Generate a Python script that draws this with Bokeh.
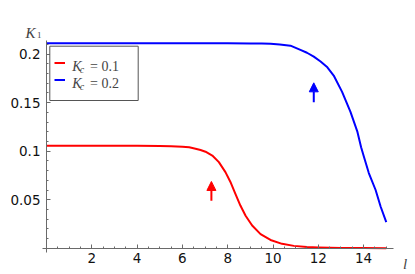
import numpy as np
from bokeh.plotting import figure
from bokeh.models import (Range1d, FixedTicker, Legend, LegendItem, Label,
                          BoxAnnotation, Arrow, NormalHead, LinearAxis)
from bokeh.embed import file_html
from bokeh.resources import INLINE

# ---- data ----
red_x = [0, 1, 2, 3, 4, 5, 5.5, 6.0, 6.3, 6.58, 6.8, 7.02, 7.32, 7.61, 7.90,
         8.12, 8.34, 8.56, 8.79, 9.08, 9.45, 9.89, 10.4, 10.92, 11.5, 12, 13,
         14, 15]
red_y = [0.1055, 0.1055, 0.1055, 0.1055, 0.1055, 0.1054, 0.1052, 0.1047,
         0.1040, 0.1026, 0.1012, 0.0995, 0.0955, 0.0887, 0.0784, 0.0683,
         0.0561, 0.0440, 0.0335, 0.0234, 0.0145, 0.0085, 0.0045, 0.0024,
         0.0012, 0.0007, 0.0002, 0.0001, 0.0]
blue_x = [0, 2, 4, 6, 8, 9, 9.5, 9.89, 10.3, 10.77, 11.21, 11.5, 11.8, 12.1,
          12.4, 12.68, 13.05, 13.42, 13.72, 13.89, 14.01, 14.23, 14.53, 14.75,
          15.0]
blue_y = [0.2112, 0.2112, 0.2112, 0.2112, 0.2112, 0.2111, 0.2110, 0.2107,
          0.2100, 0.2088, 0.2045, 0.2015, 0.1975, 0.1925, 0.1865, 0.1780,
          0.1612, 0.1406, 0.1205, 0.1040, 0.0945, 0.0775, 0.0600, 0.0430,
          0.0268]

series_labels = ["0.1", "0.2"]
series_colors = ["#ff0000", "#0000ff"]

arrow_x = [7.28, 11.8]
arrow_y_start = [0.049, 0.1505]
arrow_y_end = [0.0688, 0.1705]

x_ticks = [2, 4, 6, 8, 10, 12, 14]
x_tick_labels = ["2", "4", "6", "8", "10", "12", "14"]
y_ticks = [0.05, 0.1, 0.15, 0.2]
y_tick_labels = ["0.05", "0.1", "0.15", "0.2"]

AX = "#6a6a6a"
SERIF = "Liberation Serif"

p = figure(width=415, height=274, output_backend="svg", toolbar_location=None,
           x_range=Range1d(-2.0309, 16.291), y_range=Range1d(-0.027113, 0.25536),
           x_axis_location=None, y_axis_location=None,
           min_border_left=0, min_border_right=0, min_border_top=0,
           min_border_bottom=0)
p.outline_line_color = None
p.grid.visible = False
p.background_fill_color = "white"

xaxis = LinearAxis(fixed_location=0, bounds=(-0.177, 15.32))
yaxis = LinearAxis(fixed_location=0, bounds=(-0.0041, 0.2145))
p.add_layout(xaxis, "below")
p.add_layout(yaxis, "left")

r_red = p.line(red_x, red_y, line_color=series_colors[0], line_width=2,
               line_join="round")
r_blue = p.line(blue_x, blue_y, line_color=series_colors[1], line_width=2,
                line_join="round")

for ax in (xaxis, yaxis):
    ax.axis_line_color = AX
    ax.major_tick_line_color = AX
    ax.minor_tick_line_color = AX
    ax.major_tick_in = 4
    ax.major_tick_out = 0
    ax.minor_tick_in = 2
    ax.minor_tick_out = 0
    ax.major_label_text_font = "DejaVu Sans"
    ax.major_label_text_font_size = "13.5px"
    ax.major_label_text_color = "#111111"

xaxis.ticker = FixedTicker(ticks=x_ticks,
                           minor_ticks=list(np.arange(0.5, 15.3, 0.5)))
xaxis.major_label_overrides = {t: s for t, s in zip(x_ticks, x_tick_labels)}
xaxis.major_label_standoff = 5
yaxis.ticker = FixedTicker(ticks=y_ticks,
                           minor_ticks=list(np.arange(0.01, 0.215, 0.01)))
yaxis.major_label_overrides = {t: s for t, s in zip(y_ticks, y_tick_labels)}
yaxis.major_label_standoff = 6

# arrows
for xa, ys, ye, c in zip(arrow_x, arrow_y_start, arrow_y_end, series_colors):
    p.add_layout(Arrow(x_start=xa, y_start=ys, x_end=xa, y_end=ye,
                       line_color=c, line_width=2,
                       end=NormalHead(size=9, fill_color=c, line_color=c,
                                      line_width=1)))

# legend frame
p.add_layout(BoxAnnotation(left=49.3, right=137.7, top=228.3, bottom=174,
                           left_units="screen", right_units="screen",
                           top_units="screen", bottom_units="screen",
                           fill_color="white", fill_alpha=1,
                           line_color="#555555", line_width=1, line_alpha=1))

legend = Legend(items=[LegendItem(label=" ", renderers=[r_red]),
                       LegendItem(label=" ", renderers=[r_blue])],
                location=(54.3, 185.8), margin=0, padding=0, spacing=0,
                glyph_width=11, glyph_height=17, label_height=17,
                label_width=1, label_text_font_size="6px",
                border_line_alpha=0, background_fill_alpha=0)
p.add_layout(legend)

row_base = [208, 190.7]
for lab, yb in zip(series_labels, row_base):
    p.add_layout(Label(x=71.7, y=yb, x_units="screen", y_units="screen",
                       text="K", text_font=SERIF, text_font_style="italic",
                       text_font_size="14px", text_baseline="alphabetic"))
    p.add_layout(Label(x=79.3, y=yb - 2.5, x_units="screen", y_units="screen",
                       text="c", text_font=SERIF, text_font_style="italic",
                       text_font_size="10px", text_baseline="alphabetic"))
    p.add_layout(Label(x=89.5, y=yb, x_units="screen", y_units="screen",
                       text="= " + lab, text_font=SERIF,
                       text_font_size="14px", text_baseline="alphabetic"))

# axis titles
p.add_layout(Label(x=25, y=241.3, x_units="screen", y_units="screen",
                   text="K", text_font=SERIF, text_font_style="italic",
                   text_font_size="15px", text_baseline="alphabetic"))
p.add_layout(Label(x=36.5, y=239.5, x_units="screen", y_units="screen",
                   text="1", text_font=SERIF, text_font_size="9px",
                   text_baseline="alphabetic"))
p.add_layout(Label(x=402.5, y=11, x_units="screen", y_units="screen",
                   text="l", text_font=SERIF, text_font_style="italic",
                   text_font_size="15px", text_baseline="alphabetic"))

open("out.html", "w").write(file_html(p, INLINE))
